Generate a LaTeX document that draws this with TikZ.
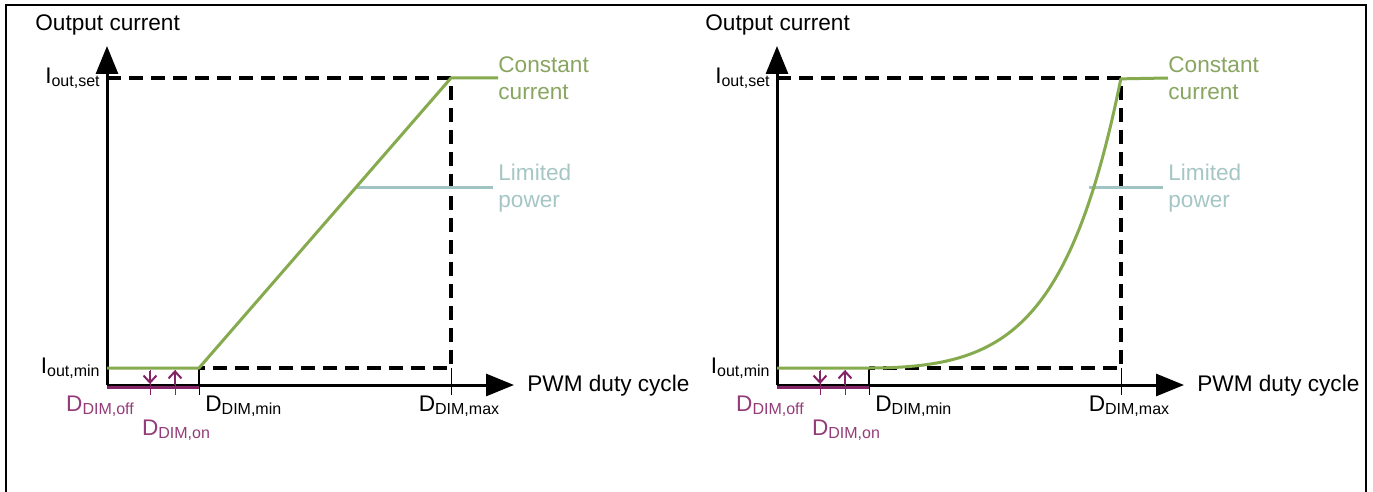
\documentclass[tikz,border=0pt]{standalone}
\usepackage{fontspec}
\setmainfont{Liberation Sans}
\usetikzlibrary{arrows.meta}

\definecolor{curvegreen}{RGB}{134,170,78}
\definecolor{labelgreen}{RGB}{136,166,96}
\definecolor{powerteal}{RGB}{160,196,193}
\definecolor{powertext}{RGB}{166,198,198}
\definecolor{dimpurple}{RGB}{132,36,102}
\definecolor{dimtext}{RGB}{148,60,120}

% symbol with a small subscript set on (almost) the same baseline
\newcommand\sublbl[2]{#1\raisebox{-0.25ex}{\fontsize{8}{9}\selectfont #2}}

\tikzset{
  lbl/.style={inner sep=0pt, font=\fontsize{11.3}{13.5}\selectfont},
  twoline/.style={lbl, align=left, font=\fontsize{11.3}{13.5}\selectfont},
  axisline/.style={line width=1.5pt, -{Triangle[length=14pt,width=11pt]}},
  guide/.style={line width=1.6pt, dash pattern=on 7pt off 4pt},
  thintick/.style={line width=0.5pt},
  thicktick/.style={line width=1.4pt},
  curve/.style={line width=1.5pt, curvegreen},
  limitline/.style={line width=1.5pt, powerteal},
  dimline/.style={line width=1.5pt, dimpurple},
  dimtick/.style={line width=0.5pt, dimpurple},
  dimarrow/.style={line width=1pt, dimpurple, -{Straight Barb[length=3.5pt,width=6.5pt]}},
}

% common parts of one panel: axes, guides, ticks and labels
\newcommand\panelframe{%
  \coordinate (O) at (107,385);
  \coordinate (ytip) at (107,46);
  \coordinate (xtip) at (514,385);
  \coordinate (yset) at (107,78);
  \coordinate (ymin) at (107,368);
  \coordinate (dmin) at (199,368);
  \coordinate (dminax) at (199,385);
  \coordinate (dminb) at (199,395);
  \coordinate (top) at (451,78);
  \coordinate (dmax) at (451,368);
  \coordinate (dmaxb) at (451,395);
  \coordinate (ccend) at (498,78);
  \coordinate (purpA) at (107,387);
  \coordinate (purpB) at (199,387);
  \coordinate (offT) at (150,370);
  \coordinate (offB) at (150,395);
  \coordinate (offS) at (150,371);
  \coordinate (offE) at (150,384);
  \coordinate (onT) at (175,370);
  \coordinate (onB) at (175,395);
  \coordinate (onS) at (175,385);
  \coordinate (onE) at (175,370);
  % dashed guides
  \draw[guide] (yset) -- (top) -- (dmax) -- (dmin);
  % ticks on the duty-cycle axis
  \draw[thicktick] (dmin) -- (dminax);
  \draw[thintick] (dminax) -- (dminb);
  \draw[thintick] (dmax) -- (dmaxb);
  % axes
  \draw[axisline] (O) -- (ytip);
  \draw[axisline] (O) -- (xtip);
  % hysteresis band of the dimming input
  \draw[dimline] (purpA) -- (purpB);
  \draw[dimtick] (offT) -- (offB);
  \draw[dimtick] (onT) -- (onB);
  \draw[dimarrow] (offS) -- (offE);
  \draw[dimarrow] (onS) -- (onE);
  % texts
  \node[lbl, anchor=west] (ylabel) at (35,25) {Output current};
  \node[lbl, anchor=west] (xlabel) at (527,386) {PWM duty cycle};
  \node[lbl, anchor=east] (iset) at (100,78) {\sublbl{I}{out,set}};
  \node[lbl, anchor=east] (imin) at (100,368) {\sublbl{I}{out,min}};
  \node[lbl, text=dimtext] (doff) at (100,406) {\sublbl{D}{DIM,off}};
  \node[lbl, text=dimtext] (don) at (176,430) {\sublbl{D}{DIM,on}};
  \node[lbl, anchor=west] (dminl) at (205,406) {\sublbl{D}{DIM,min}};
  \node[lbl] (dmaxl) at (459,406) {\sublbl{D}{DIM,max}};
  \node[twoline, anchor=west, text=labelgreen] (cc) at (498,78) {Constant\\current};
  \node[twoline, anchor=west, text=powertext] (lp) at (498,188) {Limited\\power};
}

\begin{document}
\begin{tikzpicture}[x=0.5pt, y=-0.5pt]
  \useasboundingbox (0,0) rectangle (1373,492);
  \fill[white] (0,0) rectangle (1373,492);

  % outer frame, open at the bottom
  \draw[line width=0.7pt] (6,492) -- (6,5) -- (1366,5) -- (1366,492);
  \draw[line width=1.4pt] (6,445) -- (6,492);
  \draw[line width=1.4pt] (1366,445) -- (1366,492);

  % linear dimming curve
  \begin{scope}[name prefix=L-]
    \panelframe
    \coordinate (lpS) at (355,188);
    \coordinate (lpE) at (493,188);
    \draw[limitline] (lpS) -- (lpE);
    \draw[curve, line join=round] (ymin) -- (dmin) -- (top) -- (ccend);
  \end{scope}

  % non-linear dimming curve, leaving the minimum level with zero slope
  \begin{scope}[shift={(670,0)}, name prefix=R-]
    \panelframe
    \coordinate (lpS) at (419,188);
    \coordinate (lpE) at (493,188);
    \draw[limitline] (lpS) -- (lpE);
    \draw[curve, line join=round] (ymin) -- (dmin)
      -- plot[domain=0:1, samples=80, smooth]
           ({199+252*\x},{368-290*(exp(4*\x)-1-4*\x)/(exp(4)-5)})
      -- (ccend);
  \end{scope}
\end{tikzpicture}
\end{document}
